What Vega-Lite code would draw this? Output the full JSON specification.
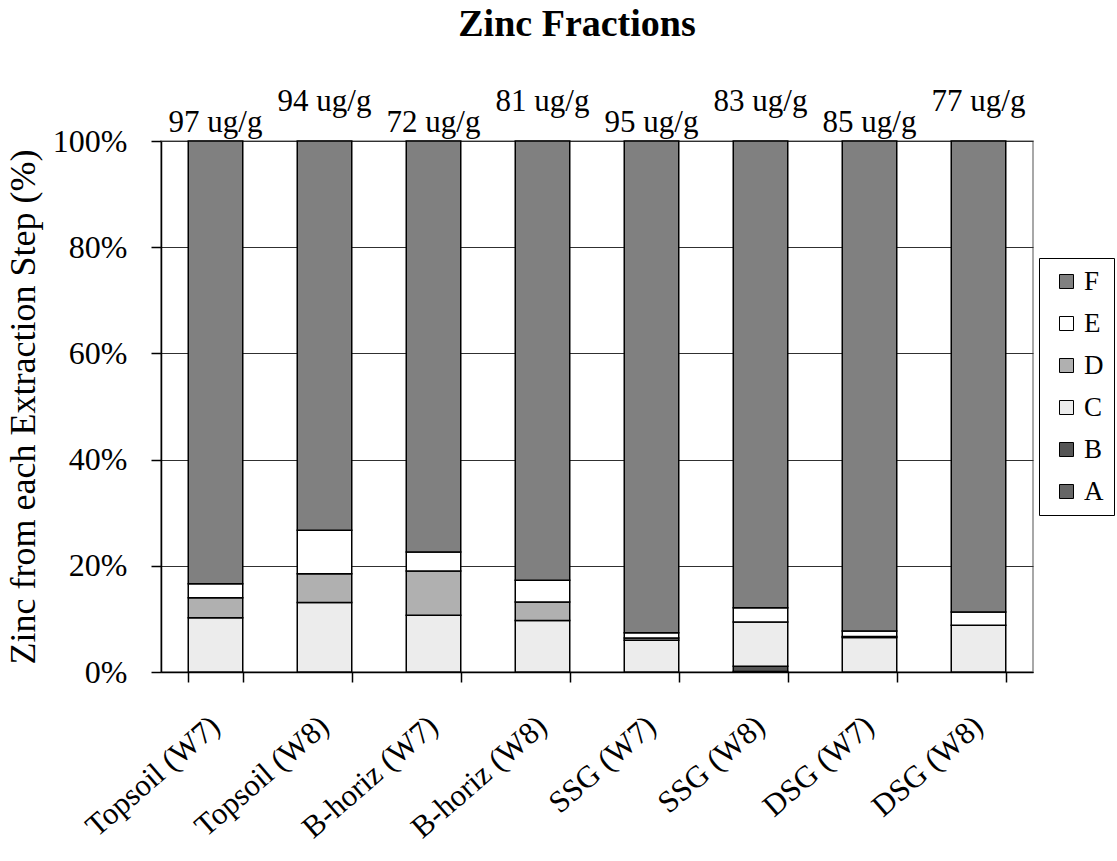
{
  "$schema": "https://vega.github.io/schema/vega-lite/v6.json",
  "autosize": "none",
  "width": 872,
  "height": 531,
  "padding": {"left": 161, "top": 141, "right": 84, "bottom": 189},
  "background": "white",
  "title": {
    "text": "Zinc Fractions",
    "font": "Liberation Serif",
    "fontSize": 38,
    "fontWeight": "bold",
    "color": "black",
    "anchor": "middle",
    "frame": "group",
    "dx": -20,
    "offset": 42
  },
  "config": {
    "view": {"stroke": "#8c8c8c", "strokeWidth": 1.5},
    "text": {"font": "Liberation Serif"},
    "axis": {
      "labelFont": "Liberation Serif",
      "titleFont": "Liberation Serif",
      "labelColor": "black",
      "titleColor": "black",
      "domainColor": "black",
      "tickColor": "black",
      "domainWidth": 1.5,
      "tickWidth": 1.5
    }
  },
  "datasets": {
    "fractions": [
      {"sample": "Topsoil (W7)", "frac": "C", "value": 10.2},
      {"sample": "Topsoil (W7)", "frac": "D", "value": 3.8},
      {"sample": "Topsoil (W7)", "frac": "E", "value": 2.6},
      {"sample": "Topsoil (W7)", "frac": "F", "value": 83.4},
      {"sample": "Topsoil (W8)", "frac": "C", "value": 13.1},
      {"sample": "Topsoil (W8)", "frac": "D", "value": 5.4},
      {"sample": "Topsoil (W8)", "frac": "E", "value": 8.2},
      {"sample": "Topsoil (W8)", "frac": "F", "value": 73.3},
      {"sample": "B-horiz (W7)", "frac": "C", "value": 10.7},
      {"sample": "B-horiz (W7)", "frac": "D", "value": 8.3},
      {"sample": "B-horiz (W7)", "frac": "E", "value": 3.6},
      {"sample": "B-horiz (W7)", "frac": "F", "value": 77.4},
      {"sample": "B-horiz (W8)", "frac": "C", "value": 9.7},
      {"sample": "B-horiz (W8)", "frac": "D", "value": 3.5},
      {"sample": "B-horiz (W8)", "frac": "E", "value": 4.1},
      {"sample": "B-horiz (W8)", "frac": "F", "value": 82.7},
      {"sample": "SSG (W7)", "frac": "C", "value": 6.0},
      {"sample": "SSG (W7)", "frac": "D", "value": 0.4},
      {"sample": "SSG (W7)", "frac": "E", "value": 1.0},
      {"sample": "SSG (W7)", "frac": "F", "value": 92.6},
      {"sample": "SSG (W8)", "frac": "A", "value": 0.1},
      {"sample": "SSG (W8)", "frac": "B", "value": 1.0},
      {"sample": "SSG (W8)", "frac": "C", "value": 8.3},
      {"sample": "SSG (W8)", "frac": "E", "value": 2.7},
      {"sample": "SSG (W8)", "frac": "F", "value": 87.9},
      {"sample": "DSG (W7)", "frac": "C", "value": 6.5},
      {"sample": "DSG (W7)", "frac": "D", "value": 0.2},
      {"sample": "DSG (W7)", "frac": "E", "value": 1.0},
      {"sample": "DSG (W7)", "frac": "F", "value": 92.3},
      {"sample": "DSG (W8)", "frac": "C", "value": 8.8},
      {"sample": "DSG (W8)", "frac": "E", "value": 2.5},
      {"sample": "DSG (W8)", "frac": "F", "value": 88.7}
    ],
    "totals": [
      {"sample": "Topsoil (W7)", "label": "97 ug/g", "well": "W7"},
      {"sample": "Topsoil (W8)", "label": "94 ug/g", "well": "W8"},
      {"sample": "B-horiz (W7)", "label": "72 ug/g", "well": "W7"},
      {"sample": "B-horiz (W8)", "label": "81 ug/g", "well": "W8"},
      {"sample": "SSG (W7)", "label": "95 ug/g", "well": "W7"},
      {"sample": "SSG (W8)", "label": "83 ug/g", "well": "W8"},
      {"sample": "DSG (W7)", "label": "85 ug/g", "well": "W7"},
      {"sample": "DSG (W8)", "label": "77 ug/g", "well": "W8"}
    ]
  },
  "layer": [
    {
      "data": {"name": "fractions"},
      "mark": {"type": "bar", "stroke": "black", "strokeWidth": 1.5},
      "encoding": {
        "x": {
          "field": "sample",
          "type": "nominal",
          "scale": {
            "domain": ["Topsoil (W7)", "Topsoil (W8)", "B-horiz (W7)", "B-horiz (W8)", "SSG (W7)", "SSG (W8)", "DSG (W7)", "DSG (W8)"],
            "paddingInner": 0.5,
            "paddingOuter": 0.25
          },
          "axis": {
            "title": null,
            "labelAngle": -41,
            "labelAlign": "right",
            "labelBaseline": "middle",
            "labelFontSize": 31,
            "labelPadding": 40,
            "tickBand": "extent",
            "tickSize": 10
          }
        },
        "y": {
          "field": "value",
          "type": "quantitative",
          "stack": "normalize",
          "scale": {"domain": [0, 1]},
          "axis": {
            "title": "Zinc from each Extraction Step (%)",
            "titleFontSize": 36,
            "titleFontWeight": "normal",
            "titlePadding": 10,
            "format": ".0%",
            "values": [0, 0.2, 0.4, 0.6, 0.8, 1],
            "labelFontSize": 32,
            "labelPadding": 24,
            "tickSize": 10,
            "grid": true,
            "gridColor": "#303030",
            "gridWidth": 1
          }
        },
        "order": {"field": "frac", "sort": "ascending"},
        "fill": {
          "field": "frac",
          "type": "nominal",
          "scale": {
            "domain": ["F", "E", "D", "C", "B", "A"],
            "range": ["#808080", "#ffffff", "#b0b0b0", "#ececec", "#555555", "#666666"]
          },
          "legend": {
            "title": null,
            "orient": "none",
            "legendX": 878,
            "legendY": 117,
            "padding": 10,
            "strokeColor": "black",
            "fillColor": "white",
            "symbolType": "square",
            "symbolSize": 196,
            "symbolStrokeColor": "black",
            "symbolStrokeWidth": 1,
            "symbolOffset": 4,
            "labelFont": "Liberation Serif",
            "labelFontSize": 27,
            "labelColor": "black",
            "labelOffset": 4,
            "rowPadding": 14
          }
        }
      }
    },
    {
      "data": {"name": "totals"},
      "transform": [{"filter": "datum.well === 'W7'"}],
      "mark": {"type": "text", "fontSize": 31, "baseline": "alphabetic", "dy": -9, "color": "black"},
      "encoding": {
        "x": {"field": "sample", "type": "nominal"},
        "y": {"datum": 1, "type": "quantitative"},
        "text": {"field": "label"}
      }
    },
    {
      "data": {"name": "totals"},
      "transform": [{"filter": "datum.well === 'W8'"}],
      "mark": {"type": "text", "fontSize": 31, "baseline": "alphabetic", "dy": -30, "color": "black"},
      "encoding": {
        "x": {"field": "sample", "type": "nominal"},
        "y": {"datum": 1, "type": "quantitative"},
        "text": {"field": "label"}
      }
    }
  ]
}
